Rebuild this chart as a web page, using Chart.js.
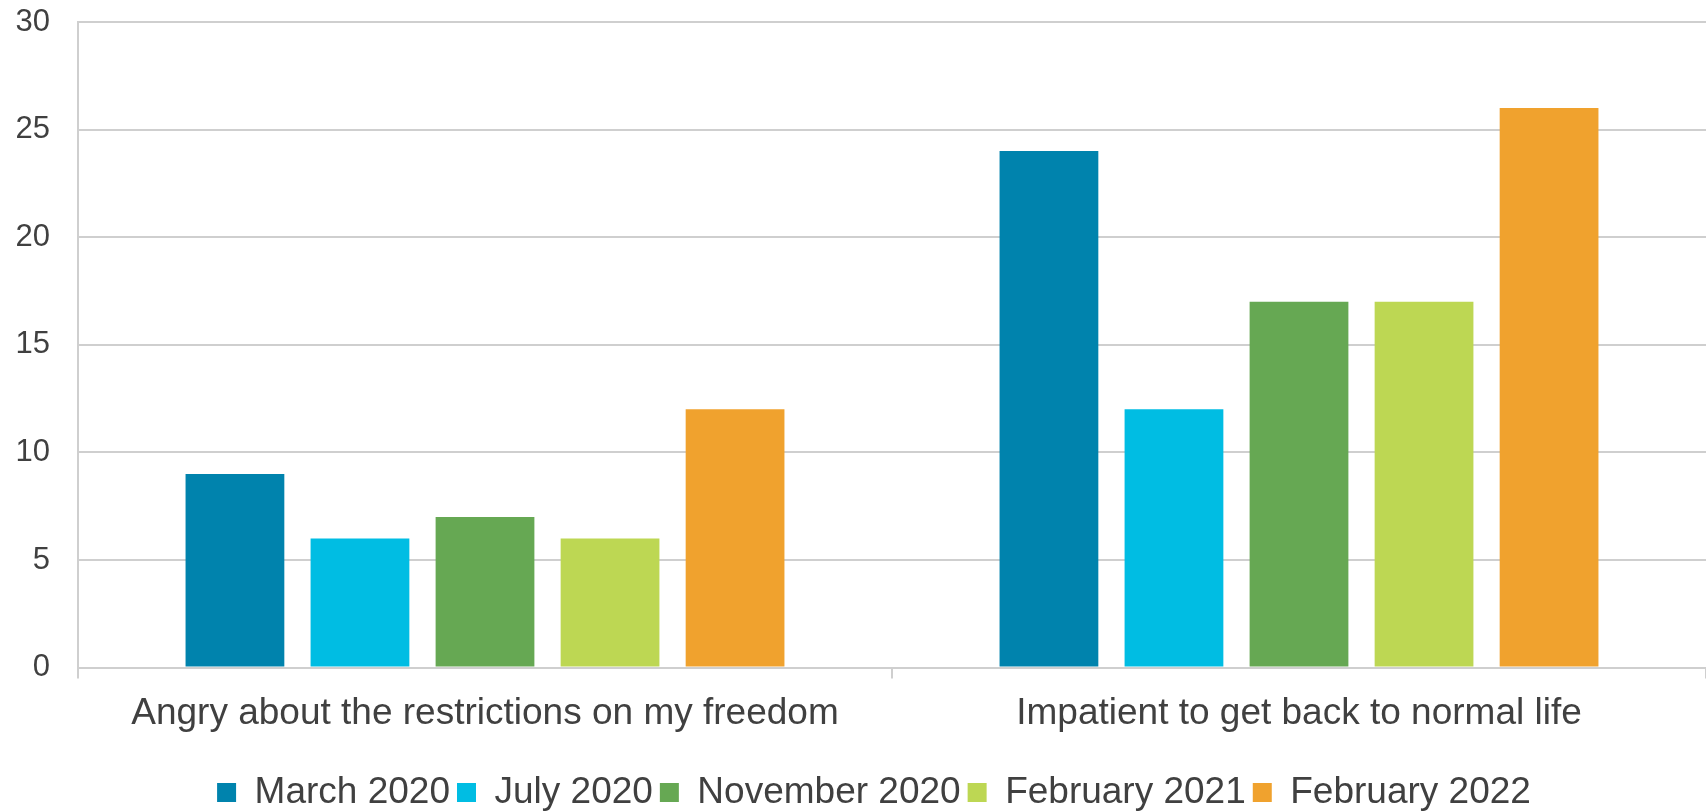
<!DOCTYPE html>
<html>
<head>
<meta charset="utf-8">
<script src="https://cdn.jsdelivr.net/npm/chart.js@4"></script>
<style>
  html, body { margin: 0; padding: 0; background: #fff; }
  #wrap { width: 1706px; height: 811px; position: relative; }
</style>
</head>
<body>
<div id="wrap"><canvas id="chart"></canvas></div>
<script>
// categories and series
const categories = ['Angry about the restrictions on my freedom', 'Impatient to get back to normal life'];
const seriesNames = ['March 2020', 'July 2020', 'November 2020', 'February 2021', 'February 2022'];
const march2020 = [9, 24];
const july2020 = [6, 12];
const november2020 = [7, 17];
const february2021 = [6, 17];
const february2022 = [12, 26];
const seriesColors = ['#0083ad', '#00bde3', '#66a853', '#bdd753', '#f0a22e'];

const yMin = 0, yMax = 30, yStep = 5;

const textColor = '#404040';
const gridColor = '#cfcfcf';
const fontFamily = '"Liberation Sans", Arial, sans-serif';

const values = [march2020, july2020, november2020, february2021, february2022];
const datasets = seriesNames.map((name, i) => ({
    label: name,
    data: values[i],
    backgroundColor: seriesColors[i],
    borderWidth: 0,
    categoryPercentage: 0.768,
    barPercentage: 0.79
}));

// nudge the legend a bit right and down, like the original
const legendShift = {
    id: 'legendShift',
    afterLayout(chart) {
        const lg = chart.legend;
        if (!lg) return;
        lg.left += 21; lg.right += 21;
        lg.top += 18; lg.bottom += 18;
    }
};

new Chart(document.getElementById('chart'), {
    type: 'bar',
    data: { labels: categories, datasets: datasets },
    plugins: [legendShift],
    options: {
        responsive: true,
        maintainAspectRatio: false,
        animation: false,
        layout: { padding: { left: 0, right: 0, top: 22, bottom: 8 } },
        plugins: {
            tooltip: { enabled: false },
            legend: {
                position: 'bottom',
                labels: {
                    color: textColor,
                    font: { family: fontFamily, size: 37 },
                    boxWidth: 19,
                    boxHeight: 19,
                    padding: 7
                }
            }
        },
        scales: {
            x: {
                grid: {
                    drawOnChartArea: false,
                    drawTicks: true,
                    tickLength: 11,
                    color: gridColor,
                    lineWidth: 2
                },
                border: { display: true, color: gridColor, width: 2 },
                ticks: {
                    color: textColor,
                    font: { family: fontFamily, size: 37 },
                    padding: 13,
                    maxRotation: 0
                }
            },
            y: {
                min: yMin,
                max: yMax,
                ticks: {
                    stepSize: yStep,
                    color: textColor,
                    font: { family: fontFamily, size: 31 },
                    padding: 0
                },
                grid: {
                    color: gridColor,
                    lineWidth: 2,
                    drawTicks: true,
                    tickLength: 28,
                    tickColor: 'rgba(0,0,0,0)'
                },
                border: { display: true, color: gridColor, width: 2 },
                afterFit: (scale) => { scale.width = 78; }
            }
        }
    }
});
</script>
</body>
</html>
